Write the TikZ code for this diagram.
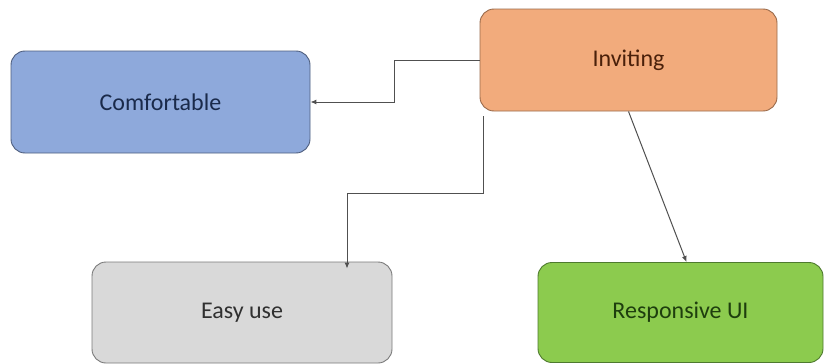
\documentclass[tikz,border=0pt]{standalone}
\usepackage{fontspec}
\setmainfont{Carlito}
\usetikzlibrary{arrows.meta,calc}
\definecolor{orfill}{HTML}{F2AB7C}
\definecolor{ordraw}{HTML}{9A6A4A}
\definecolor{ortext}{HTML}{4A200A}
\definecolor{blfill}{HTML}{8EA9DB}
\definecolor{bldraw}{HTML}{4E5E7E}
\definecolor{bltext}{HTML}{1A2A4A}
\definecolor{gyfill}{HTML}{D9D9D9}
\definecolor{gydraw}{HTML}{7A7A7A}
\definecolor{gytext}{HTML}{303030}
\definecolor{grfill}{HTML}{8CCB4E}
\definecolor{grdraw}{HTML}{4E7A2E}
\definecolor{grtext}{HTML}{1E3E0E}
\definecolor{linec}{HTML}{505050}
\tikzset{
  box/.style={rectangle, rounded corners=14pt, line width=0.9pt, inner sep=0pt,
    font=\fontsize{24}{28}\selectfont},
  conn/.style={draw=linec, line width=1pt, -{Latex[length=6pt,width=5pt]}},
}
\begin{document}
\begin{tikzpicture}[x=1pt,y=-1pt]
\useasboundingbox[fill=white] (0,0) rectangle (825,364);
\node[box, fill=orfill, draw=ordraw, text=ortext, minimum width=297pt, minimum height=102pt] (inv) at (628.5,60) {Inviting};
\node[box, fill=blfill, draw=bldraw, text=bltext, minimum width=299pt, minimum height=102pt] (comf) at (160.5,102) {Comfortable};
\node[box, fill=gyfill, draw=gydraw, text=gytext, minimum width=300pt, minimum height=101pt] (easy) at (242,312.5) {Easy use};
\node[box, fill=grfill, draw=grdraw, text=grtext, minimum width=285pt, minimum height=100pt] (resp) at (680.5,312.5) {Responsive UI};
\coordinate (k1) at (394,60);
\coordinate (k2) at (394,102);
\draw[conn] (inv.west) -- (k1) -- (k2) -- (comf.east);
\coordinate (s2) at (483,116);
\coordinate (k3) at (483,193);
\coordinate (k4) at (347,193);
\draw[conn] (s2) -- (k3) -- (k4) -- ($(k4 |- easy.north)+(0,7)$);
\draw[conn] ($(inv.south)+(0,0)$) -- ($(resp.north)+(6,0)$);
\end{tikzpicture}
\end{document}
